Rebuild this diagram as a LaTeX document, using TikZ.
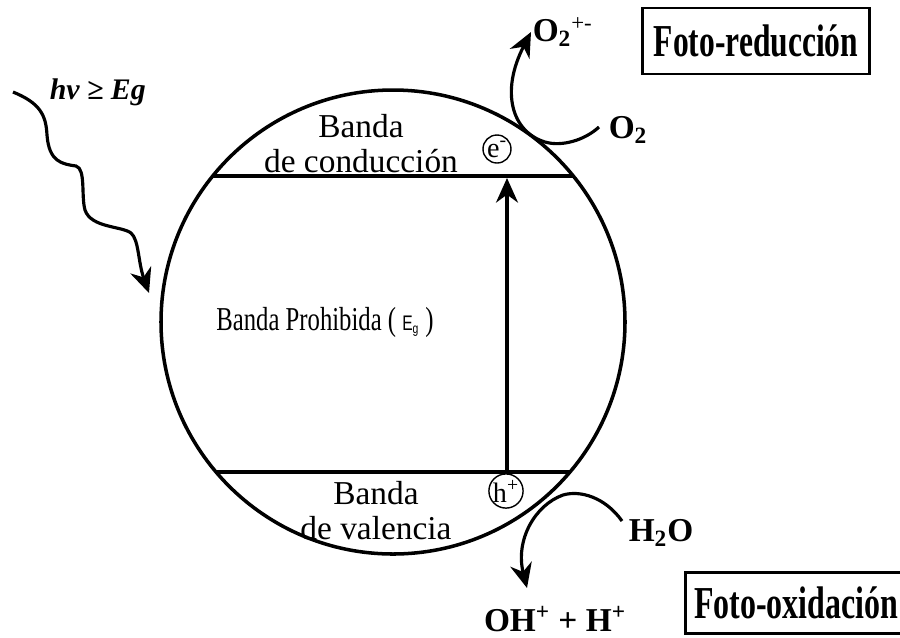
\documentclass[tikz,border=0pt]{standalone}
\usepackage{fontspec}
\setmainfont{Liberation Serif}
\setsansfont{Liberation Sans}
\usetikzlibrary{arrows.meta,positioning}
\newcommand{\estrecho}[2]{\scalebox{#1}[1]{#2}}

\tikzset{
  banda/.style={font=\fontsize{19}{20}\selectfont, align=center, inner sep=0pt},
  especie/.style={font=\fontsize{19}{20}\selectfont\bfseries, inner sep=0pt},
  titulo/.style={draw, line width=1.5pt, font=\fontsize{26}{28}\selectfont\bfseries, inner sep=0pt},
  carga/.style={draw, circle, line width=0.8pt, minimum size=28*0.02cm, inner sep=0pt, font=\fontsize{16}{16}\selectfont},
  flecha/.style={line width=1.8pt, -{Stealth[length=14pt,width=12.5pt]}},
}

\begin{document}
\begin{tikzpicture}[x=0.02cm, y=-0.02cm, line width=2pt]
  \useasboundingbox (0,0) rectangle (900,637);
  % particle and band edges
  \coordinate (centro) at (393,322);
  \draw (centro) circle [radius=232*0.02cm];
  \coordinate (bc-izq) at (213,176);
  \coordinate (bc-der) at (573,176);
  \coordinate (bv-izq) at (216,472);
  \coordinate (bv-der) at (570,472);
  \draw (bc-izq) -- (bc-der);
  \draw (bv-izq) -- (bv-der);
  % labels inside
  \node[banda] (conduccion) at (361,144) {Banda\\de conducción};
  \node[banda] (valencia) at (376,511) {Banda\\de valencia};
  \node[banda] (prohibida) at (325,322) {\estrecho{0.74}{Banda Prohibida ( {\sffamily\fontsize{12}{12}\selectfont E\textsubscript{g}} )}};
  \node[carga] (electron) at (497,149) {e\textsuperscript{-}};
  \node[carga] (hueco) at (506,491) {h\textsuperscript{+}};
  % excitation
  \coordinate (salto) at (507,472);
  \draw[flecha] (salto) -- (507,178);
  % incoming light
  \node[font=\fontsize{17}{17}\selectfont\bfseries\itshape, anchor=west, inner sep=0pt] (luz) at (48,92) {hv ≥ Eg};
  \coordinate (luz-ini) at (13,92);
  \draw[flecha] (luz-ini) .. controls (40,103) and (46,115) .. (47,135)
    .. controls (49,162) and (62,164) .. (76,166)
    .. controls (86,169) and (81,196) .. (85,210)
    .. controls (91,228) and (122,226) .. (131,233)
    .. controls (139,240) and (138,262) .. (149,293);
  % reduction
  \node[especie, anchor=west] (o2) at (607,130) {O\textsubscript{2}};
  \node[especie, anchor=west] (superox) at (531,32) {O\textsubscript{2}\textsuperscript{\normalfont\fontsize{13}{13}\selectfont +-}};
  \draw[flecha] (o2.west) ++(-8,-3) .. controls (585,140) and (562,147) .. (545,142)
    .. controls (512,132) and (500,92) .. (superox.west);
  \node[titulo, minimum width=227*0.02cm, minimum height=66*0.02cm] (reduccion) at (756,41) {\estrecho{0.69}{Foto-reducción}};
  % oxidation
  \node[especie, anchor=west] (h2o) at (627,533) {H\textsubscript{2}O};
  \node[especie, anchor=base] (oh) at (555,631) {OH\textsuperscript{+} + H\textsuperscript{+}};
  \coordinate (oh-tip) at (527,588);
  \draw[flecha] (h2o.west) ++(-5,-12) .. controls (605,497) and (580,490) .. (563,495)
    .. controls (535,505) and (515,540) .. (oh-tip);
  \node[titulo, minimum width=222*0.02cm, minimum height=61*0.02cm, anchor=west] (oxidacion) at (684,603) {\estrecho{0.70}{Foto-oxidación}};
\end{tikzpicture}
\end{document}
